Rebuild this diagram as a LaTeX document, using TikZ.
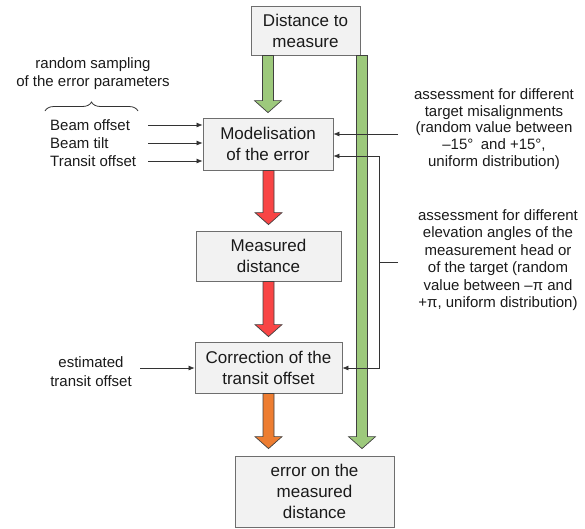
\documentclass[tikz,border=0pt]{standalone}
\usepackage{fontspec}
\setmainfont{Liberation Sans}
\usetikzlibrary{arrows.meta,decorations.pathreplacing,calc}
\definecolor{boxfill}{HTML}{F2F2F2}
\definecolor{boxline}{HTML}{6E6E6E}
\definecolor{greenA}{HTML}{9DC97C}
\definecolor{redA}{HTML}{F84545}
\definecolor{orangeA}{HTML}{ED7D31}
\definecolor{txt}{HTML}{1A1A1A}
\newcommand\blockarr[3]{%
  \filldraw[barrow, fill=#1] let \p1=(#2), \p2=(#3) in
  (\x2-5.5pt,\y1) -- (\x2+5.5pt,\y1) -- (\x2+5.5pt,\y2+12pt) -- (\x2+13.5pt,\y2+12pt)
  -- (\x2,\y2) -- (\x2-13.5pt,\y2+12pt) -- (\x2-5.5pt,\y2+12pt) -- cycle;}
\begin{document}
\begin{tikzpicture}[x=1pt,y=-1pt,
  box/.style={draw=boxline, fill=boxfill, line width=0.8pt, inner sep=0pt, align=center,
    font=\fontsize{17}{21}\selectfont, text=txt},
  lbl/.style={inner sep=0pt, align=center, font=\fontsize{15}{17}\selectfont, text=txt},
  conn/.style={draw=black!80, line width=0.7pt, -{Latex[length=6pt,width=5pt]}},
  plain/.style={draw=black!80, line width=0.7pt},
  barrow/.style={draw=black!75, line width=0.7pt}]
\useasboundingbox (0,0) rectangle (585,528);

% boxes
\node[box, minimum width=109pt, minimum height=49pt] (dist) at (305.5,30.5) {Distance to\\measure};
\node[box, minimum width=130pt, minimum height=52pt] (model) at (268,144) {Modelisation\\of the error};
\node[box, minimum width=145pt, minimum height=50pt] (meas) at (268.5,256) {Measured\\distance};
\node[box, minimum width=147pt, minimum height=51pt] (corr) at (268.5,367.5) {Correction of the\\transit offset};
\node[box, minimum width=159pt, minimum height=71pt] (err) at (314.5,491.5) {error on the\\measured\\distance};

% labels
\node[lbl, font=\fontsize{15}{18}\selectfont] (samp) at (93,74) {random sampling\\of the error parameters};
\node[lbl, anchor=west, align=left] (bo) at (50,125) {Beam offset};
\node[lbl, anchor=west, align=left] (bt) at (50,143) {Beam tilt};
\node[lbl, anchor=west, align=left] (to) at (50,161) {Transit offset};
\node[lbl, font=\fontsize{15}{19}\selectfont] (est) at (91,372) {estimated\\transit offset};
\node[lbl, font=\fontsize{15}{16.8}\selectfont] (mis) at (494,129) {assessment for different\\target misalignments\\(random value between\\\hbox{–15°\enspace and +15°,}\\uniform distribution)};
\node[lbl, font=\fontsize{15}{17.5}\selectfont] (elev) at (498,260) {assessment for different\\elevation angles of the\\measurement head or\\of the target (random\\value between –π and\\+π, uniform distribution)};

% brace
\coordinate (bl) at (45,111);
\coordinate (br) at (138,111);
\draw[decorate, decoration={brace, amplitude=9pt}, line width=0.8pt, draw=black!80] (bl) -- (br);

% block arrows
\coordinate (gx) at (362,0);
\blockarr{greenA}{dist.south -| model.north}{$(model.north)+(0,-5)$}
\blockarr{greenA}{dist.south -| gx}{$(err.north -| gx)+(0,-7)$}
\blockarr{redA}{model.south}{$(meas.north)+(0,-6)$}
\blockarr{redA}{meas.south}{$(corr.north)+(0,-5)$}
\blockarr{orangeA}{corr.south}{$(err.north -| corr.south)+(0,-7)$}

% left inputs
\coordinate (ax) at (148,0);
\draw[conn] (ax |- bo) -- (model.west |- bo);
\draw[conn] (ax |- bt) -- (model.west |- bt);
\draw[conn] (ax |- to) -- (model.west |- to);
\coordinate (ex) at (140,368);
\draw[conn] (ex) -- (corr.west |- ex);

% right inputs
\coordinate (r1) at (398,134);
\draw[conn] (r1) -- (model.east |- r1);
\coordinate (b1) at (379,156);
\coordinate (b2) at (379,368);
\coordinate (bt2) at (398,262);
\draw[conn, {Latex[length=6pt,width=5pt]}-{Latex[length=6pt,width=5pt]}] (model.east |- b1) -- (b1) -- (b2) -- (corr.east |- b2);
\draw[plain] (bt2) -- (bt2 -| b1);
\end{tikzpicture}
\end{document}
